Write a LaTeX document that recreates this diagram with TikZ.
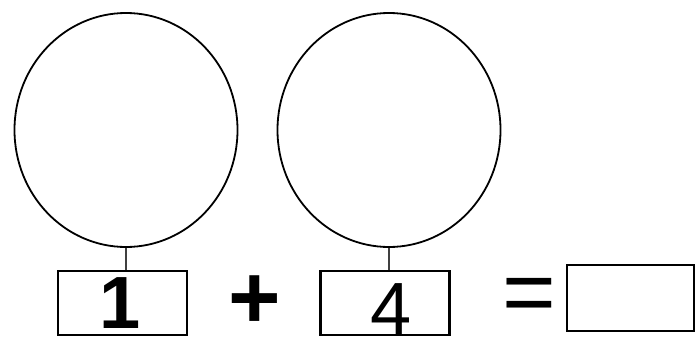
\documentclass[tikz,border=0pt]{standalone}
\usepackage{fontspec}
\setmainfont{Liberation Sans}
\usepackage{tikz}
\usetikzlibrary{positioning,shapes.geometric}
\tikzset{
  ball/.style={ellipse, draw=black, line width=1.8pt,
               minimum width=223pt, minimum height=234pt, inner sep=0pt},
  slot/.style={rectangle, draw=black, line width=2.4pt,
               minimum width=#1, minimum height=64pt, inner sep=0pt},
  slot/.default=129pt,
  digit/.style={font=\fontsize{74}{74}\selectfont, inner sep=0pt},
  sign/.style={font=\fontsize{#1}{#1}\selectfont, inner sep=0pt},
  stem/.style={line width=1.2pt, draw=black!75},
}

\begin{document}
\begin{tikzpicture}[x=1pt,y=1pt]
        \useasboundingbox (0,0) rectangle (695,338);
        % the two counting balls
        \node[ball] (ballA) at (126,208) {};
        \node[ball] (ballB) at (389,208) {};

        % number boxes
        \node[slot] (boxA) at (122.5,35) {};
        \node[slot] (boxB) at (385,35) {};
        \node[slot=127pt, minimum height=66pt] (boxC) at (630.5,40) {};

        \node[digit, font=\fontsize{74}{74}\selectfont\bfseries] (numA) at (120,34.5) {1};
        \node[digit] (numB) at (391,29) {4};

        % operators
        \node[sign=90, font=\fontsize{90}{90}\selectfont\bfseries] (plus) at (255,36) {+};
        \node[sign=92] (equals) at (529,37) {=};

        % stems from balls to boxes
        \draw[stem] (ballA.south) -- (ballA.south |- boxA.north);
        \draw[stem] (ballB.south) -- (ballB.south |- boxB.north);
      \end{tikzpicture}
\end{document}
